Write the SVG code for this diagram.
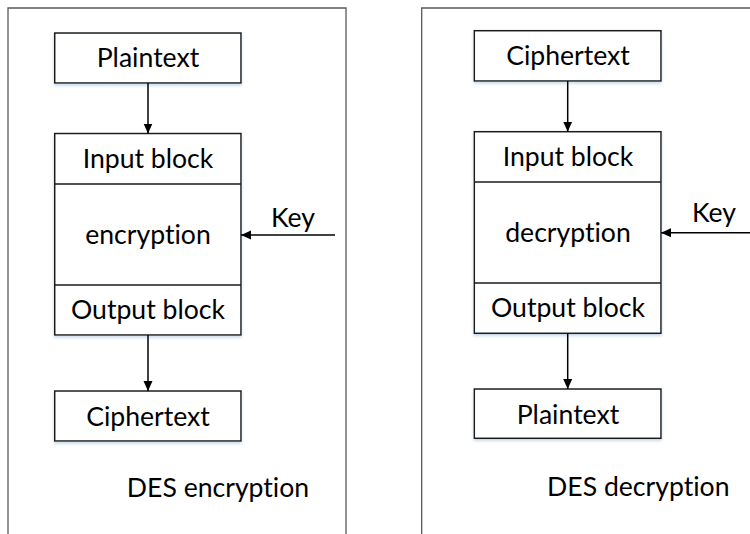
<svg xmlns="http://www.w3.org/2000/svg" width="750" height="534" viewBox="0 0 750 534">
<defs>
<filter id="sh" x="-5%" y="-10%" width="110%" height="130%">
<feDropShadow dx="0" dy="2" stdDeviation="1.5" flood-color="#9fbde0" flood-opacity="0.55"/>
</filter>
<marker id="ah" viewBox="0 0 10 10" refX="10" refY="5" markerWidth="10" markerHeight="10" markerUnits="userSpaceOnUse" orient="auto">
<path d="M0,0.5 L10,5 L0,9.5 Z" fill="#000"/>
</marker>
</defs>
<style>
.panel{fill:none;stroke:#5a5a5a;stroke-width:1.3}
.box{fill:#fff;stroke:#1a1a1a;stroke-width:1.5;filter:url(#sh)}
.div{stroke:#1a1a1a;stroke-width:1.5}
.t{font-family:Lato,"Liberation Sans",sans-serif;font-size:26.6px;fill:#000;text-anchor:middle;font-variant-ligatures:none}
.con{stroke:#000;stroke-width:1.5;fill:none;marker-end:url(#ah)}
</style>
<rect width="750" height="534" fill="#fff"/>
<g id="panel-encryption">
<path class="panel" d="M8,540 V8 H346 V540"/>
<text class="t" x="218" y="497">DES encryption</text>
</g>
<g id="panel-decryption">
<path class="panel" d="M421.7,540 V8 H760"/>
<text class="t" x="638.3" y="496">DES decryption</text>
</g>
<g id="enc-plaintext">
<rect class="box" x="54.7" y="33" width="186.3" height="50"/>
<text class="t" x="148" y="67">Plaintext</text>
</g>
<g id="enc-block">
<rect class="box" x="54.7" y="133.5" width="186.3" height="201.5"/>
<line class="div" x1="54.7" y1="184" x2="241" y2="184"/>
<line class="div" x1="54.7" y1="285" x2="241" y2="285"/>
<text class="t" x="148" y="168">Input block</text>
<text class="t" x="148" y="244">encryption</text>
<text class="t" x="148" y="319">Output block</text>
</g>
<g id="enc-ciphertext">
<rect class="box" x="54.7" y="391" width="186.3" height="50"/>
<text class="t" x="148" y="426">Ciphertext</text>
</g>
<g id="enc-key">
<text class="t" x="293" y="227">Key</text>
</g>
<g id="dec-ciphertext">
<rect class="box" x="474.3" y="30.7" width="186.7" height="50.3"/>
<text class="t" x="568" y="64.5">Ciphertext</text>
</g>
<g id="dec-block">
<rect class="box" x="474.3" y="131.7" width="186.7" height="201.6"/>
<line class="div" x1="474.3" y1="182" x2="661" y2="182"/>
<line class="div" x1="474.3" y1="283" x2="661" y2="283"/>
<text class="t" x="568" y="166">Input block</text>
<text class="t" x="568" y="242">decryption</text>
<text class="t" x="568" y="317">Output block</text>
</g>
<g id="dec-plaintext">
<rect class="box" x="474.3" y="389" width="186.7" height="49.3"/>
<text class="t" x="568" y="424">Plaintext</text>
</g>
<g id="dec-key">
<text class="t" x="714" y="222">Key</text>
</g>
<g id="connectors">
<line class="con" x1="148" y1="83" x2="148" y2="133.5"/>
<line class="con" x1="148" y1="335" x2="148" y2="391"/>
<line class="con" x1="335" y1="235" x2="241" y2="235"/>
<line class="con" x1="567.7" y1="81" x2="567.7" y2="131.7"/>
<line class="con" x1="567.7" y1="333.3" x2="567.7" y2="389"/>
<line class="con" x1="750" y1="232.7" x2="661" y2="232.7"/>
</g>
</svg>
